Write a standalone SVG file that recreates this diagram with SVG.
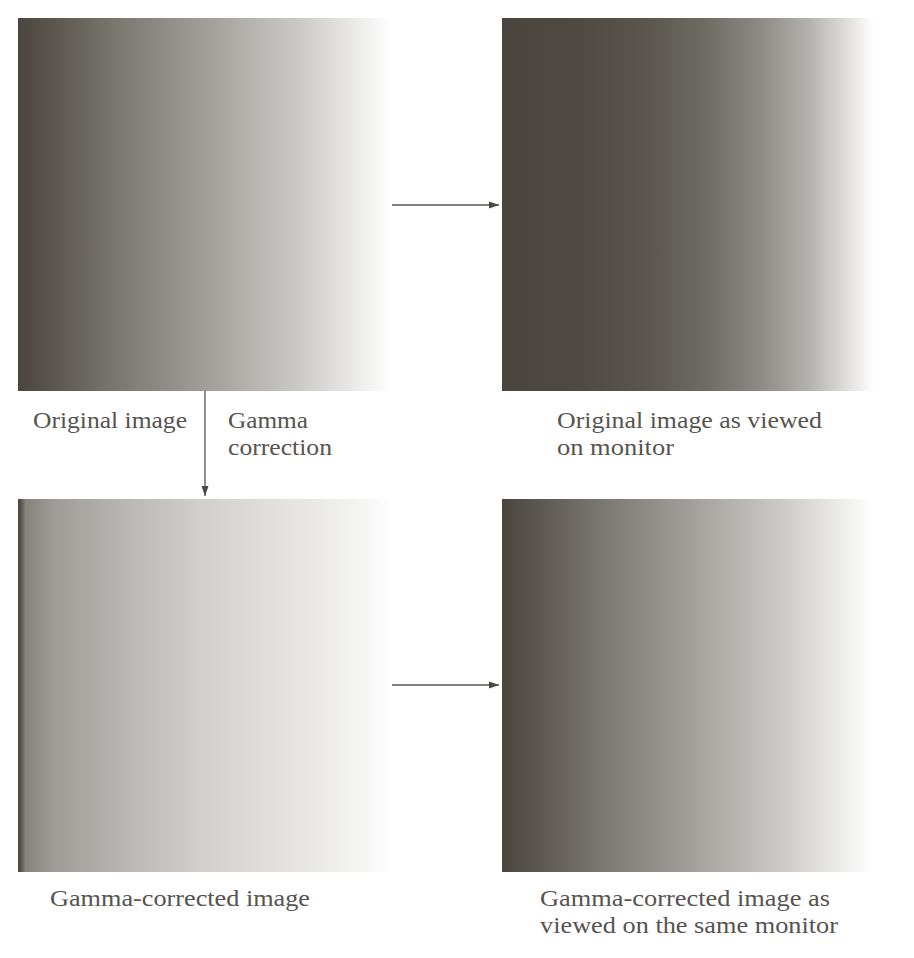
<svg xmlns="http://www.w3.org/2000/svg" width="914" height="958" viewBox="0 0 914 958">
<style>
text{font-family:"Liberation Serif","DejaVu Serif",serif;font-size:23px;fill:#575450}
.c{stroke:#5a5753;stroke-width:1.3;fill:none}
</style>
<defs>
<marker id="ah" viewBox="0 0 10 10" refX="10" refY="5" markerWidth="10" markerHeight="10" markerUnits="userSpaceOnUse" orient="auto"><path d="M0,1.5L10,5L0,8.5z" fill="#4a4640"/></marker>
<linearGradient id="gLin" x1="0" y1="0" x2="1" y2="0">
<stop offset="0" stop-color="#4a453e"/>
<stop offset="0.25" stop-color="#78746e"/>
<stop offset="0.5" stop-color="#a19e99"/>
<stop offset="0.75" stop-color="#cbc9c6"/>
<stop offset="0.92" stop-color="#eeeeed"/>
<stop offset="1" stop-color="#ffffff"/>
</linearGradient>
<linearGradient id="gMon" x1="0" y1="0" x2="1" y2="0">
<stop offset="0" stop-color="#4a453e"/>
<stop offset="0.2" stop-color="#4e4942"/>
<stop offset="0.4" stop-color="#5b5750"/>
<stop offset="0.55" stop-color="#6f6c66"/>
<stop offset="0.7" stop-color="#8f8c87"/>
<stop offset="0.82" stop-color="#b2b0ac"/>
<stop offset="0.92" stop-color="#dcdbd9"/>
<stop offset="1" stop-color="#ffffff"/>
</linearGradient>
<linearGradient id="gCor" x1="0" y1="0" x2="1" y2="0">
<stop offset="0" stop-color="#4a453e"/>
<stop offset="0.01" stop-color="#5e5a54"/>
<stop offset="0.02" stop-color="#85827c"/>
<stop offset="0.1" stop-color="#a09d98"/>
<stop offset="0.3" stop-color="#bab8b5"/>
<stop offset="0.5" stop-color="#d2d1cf"/>
<stop offset="0.75" stop-color="#e6e5e4"/>
<stop offset="0.92" stop-color="#f4f4f3"/>
<stop offset="1" stop-color="#ffffff"/>
</linearGradient>
</defs>
<g id="original">
<rect x="18" y="18" width="374" height="373" fill="url(#gLin)"/>
<text x="33" y="428" textLength="154" lengthAdjust="spacingAndGlyphs">Original image</text>
</g>
<g id="original-monitor">
<rect x="502" y="18" width="372" height="373" fill="url(#gMon)"/>
<text x="557" y="428" textLength="265" lengthAdjust="spacingAndGlyphs">Original image as viewed</text>
<text x="557" y="455" textLength="117" lengthAdjust="spacingAndGlyphs">on monitor</text>
</g>
<g id="corrected">
<rect x="18" y="499" width="374" height="373" fill="url(#gCor)"/>
<text x="50" y="906" textLength="260" lengthAdjust="spacingAndGlyphs">Gamma-corrected image</text>
</g>
<g id="corrected-monitor">
<rect x="502" y="499" width="372" height="373" fill="url(#gLin)"/>
<text x="540" y="906" textLength="290" lengthAdjust="spacingAndGlyphs">Gamma-corrected image as</text>
<text x="540" y="933" textLength="298" lengthAdjust="spacingAndGlyphs">viewed on the same monitor</text>
</g>
<g id="connectors">
<line class="c" x1="392" y1="205" x2="499" y2="205" marker-end="url(#ah)"/>
<line class="c" x1="392" y1="685" x2="499" y2="685" marker-end="url(#ah)"/>
<line class="c" x1="205" y1="391" x2="205" y2="496" marker-end="url(#ah)"/>
<text x="228" y="428" textLength="80" lengthAdjust="spacingAndGlyphs">Gamma</text>
<text x="228" y="455" textLength="104" lengthAdjust="spacingAndGlyphs">correction</text>
</g>
</svg>
